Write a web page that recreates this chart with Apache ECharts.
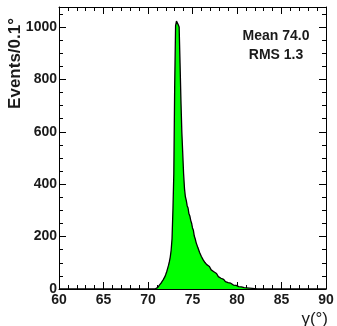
<!DOCTYPE html>
<html>
<head>
<meta charset="utf-8">
<script src="https://cdn.jsdelivr.net/npm/echarts@6/dist/echarts.min.js"></script>
<style>html,body{margin:0;padding:0;background:#fff}#c{width:337px;height:326px}</style>
</head>
<body>
<div id="c"></div>
<script>
// Histogram: bins of 0.1 deg from 60 to 90
const histMin = 60;
const histMax = 90;
const binWidth = 0.1;
// counts for bins starting at 70.8 (low edge), others are 0
const firstFilledBin = 70.8;
const counts = [
  2,4,6,9,12,16,20,24,29,35,
  40,47,56,66,78,90,104,122,148,192,
  300,440,780,1005,1022,1015,1008,1000,862,720,
  600,520,440,383,352,338,318,309,287,279,
  262,251,233,224,202,192,178,171,158,152,
  139,133,124,119,111,108,101,99,93,91,
  86,81,79,73,73,66,66,60,59,53,
  54,47,47,41,42,36,37,32,33,28,
  29,24,25,21,22,18,19,15,16,13,
  14,11,12,9,10,8,8,6,6,5,
  5,4,4,3,3,3,2,2,2,1,
  1,1,1
];
const xTicks = [60,65,70,75,80,85,90];
const yTicks = [0,200,400,600,800,1000];
const statsLines = ['Mean 74.0', 'RMS 1.3'];
const yTitle = 'Events/0.1\u00b0';
const xTitle = '\u03b3(\u00b0)';

const nBins = Math.round((histMax - histMin) / binWidth);
const firstIdx = Math.round((firstFilledBin - histMin) / binWidth);
const data = [];
for (let i = 0; i < nBins; i++) {
  const x = Math.round((histMin + i * binWidth) * 10) / 10;
  const k = i - firstIdx;
  const v = (k >= 0 && k < counts.length) ? counts[k] : 0;
  data.push([x, v]);
}
data.push([histMax, 0]);

const font = 'Liberation Sans, Arial, Helvetica, sans-serif';
const lbl = {fontFamily: font, fontWeight: 'bold', fontSize: 14, color: '#1a1a1a'};
const yMax = 1076;

function xAxisDef(pos, showLabels) {
  return {
    type: 'value', position: pos, min: histMin, max: histMax, interval: 5,
    axisLine: {show: true, onZero: false, lineStyle: {color: '#000', width: 1}},
    axisTick: {show: true, inside: true, length: 7, lineStyle: {color: '#000'}},
    minorTick: {show: true, splitNumber: 5, length: 4, lineStyle: {color: '#000'}},
    splitLine: {show: false},
    axisLabel: Object.assign({show: showLabels, margin: 4,
      formatter: v => xTicks.includes(v) ? String(v) : ''}, lbl)
  };
}
function yAxisDef(pos, showLabels) {
  return {
    type: 'value', position: pos, min: 0, max: yMax, interval: 200,
    axisLine: {show: true, onZero: false, lineStyle: {color: '#000', width: 1}},
    axisTick: {show: true, inside: true, length: 7, lineStyle: {color: '#000'}},
    minorTick: {show: true, splitNumber: 4, length: 4, lineStyle: {color: '#000'}},
    splitLine: {show: false},
    axisLabel: Object.assign({show: showLabels, margin: 2, showMaxLabel: false,
      formatter: v => yTicks.includes(v) ? String(v) : ''}, lbl)
  };
}

const chart = echarts.init(document.getElementById('c'), null, {renderer: 'canvas'});
chart.setOption({
  animation: false,
  backgroundColor: '#fff',
  grid: {left: 59, right: 11, top: 7, bottom: 37, containLabel: false},
  xAxis: [xAxisDef('bottom', true), xAxisDef('top', false)],
  yAxis: [yAxisDef('left', true), yAxisDef('right', false)],
  series: [{
    type: 'line',
    step: 'end',
    data: data,
    xAxisIndex: 0, yAxisIndex: 0,
    showSymbol: false,
    symbol: 'none',
    lineStyle: {color: '#000', width: 1.3},
    areaStyle: {color: '#00ff00', opacity: 1, origin: 'start'},
    z: 1
  }],
  graphic: [
    {type: 'text', x: 276, y: 36,
      style: {text: statsLines[0], font: 'bold 14px ' + font, fill: '#1a1a1a', textAlign: 'center', textVerticalAlign: 'middle'}},
    {type: 'text', x: 276, y: 55,
      style: {text: statsLines[1], font: 'bold 14px ' + font, fill: '#1a1a1a', textAlign: 'center', textVerticalAlign: 'middle'}},
    {type: 'text', x: 15, y: 18, rotation: Math.PI / 2,
      style: {text: yTitle, font: 'bold 17px ' + font, fill: '#1a1a1a', textAlign: 'right', textVerticalAlign: 'middle'}},
    {type: 'text', x: 328, y: 319,
      style: {text: xTitle, font: '17px ' + font, fill: '#1a1a1a', textAlign: 'right', textVerticalAlign: 'middle'}}
  ]
});
</script>
</body>
</html>
